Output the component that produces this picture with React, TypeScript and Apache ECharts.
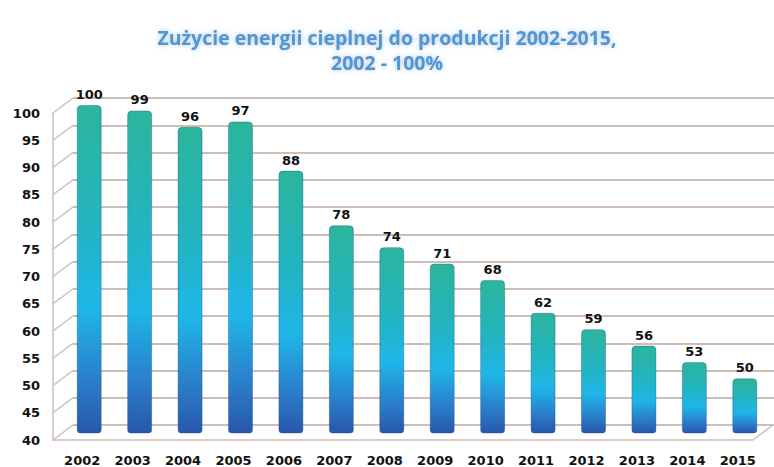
import React, { useEffect, useRef } from "react";
import * as echarts from "echarts";

const years = ["2002", "2003", "2004", "2005", "2006", "2007", "2008", "2009", "2010", "2011", "2012", "2013", "2014", "2015"];
const values = [100, 99, 96, 97, 88, 78, 74, 71, 68, 62, 59, 56, 53, 50];
const wallTicks = [40, 45, 50, 55, 60, 65, 70, 75, 80, 85, 90, 95, 100];
const titleLines = ["Zużycie energii cieplnej do produkcji 2002-2015,", "2002 - 100%"];

const GRID_COLOR = "#cdbfb6";
const LABEL_FONT = "DejaVu Sans";

export default function App() {
  const ref = useRef<HTMLDivElement>(null);
  useEffect(() => {
    if (!ref.current) return;
    const chart = echarts.init(ref.current, null, { renderer: "svg" });
    const wallData = wallTicks.map((v) => [0, v]);
    wallData.push([1, 40]);
    chart.setOption({
      animation: false,
      backgroundColor: "#ffffff",
      title: {
        text: titleLines.join("\n"),
        left: "center",
        top: 20,
        textStyle: {
          fontFamily: "Open Sans",
          fontSize: 19.5,
          fontWeight: "bold",
          color: "#5595cf",
          lineHeight: 25,
          textShadowColor: "rgba(100,160,215,0.6)",
          textShadowBlur: 5,
        },
      },
      grid: [
        { left: 64, right: 4, top: 105, bottom: 34 },
        { left: 73, right: 0, top: 98, bottom: 42 },
        { left: 53, right: 21, top: 113, bottom: 27 },
      ],
      xAxis: [
        {
          type: "category",
          gridIndex: 0,
          data: years,
          axisLine: { show: false },
          axisTick: { show: false },
          axisLabel: {
            margin: 21,
            fontFamily: LABEL_FONT,
            fontSize: 13,
            fontWeight: "bold",
            color: "#111",
            padding: [0, 14, 0, 0],
          },
        },
        { type: "value", gridIndex: 1, min: 0, max: 1, show: false },
        {
          type: "value",
          gridIndex: 2,
          min: 0,
          max: 1,
          axisLine: { show: true, onZero: false, lineStyle: { color: GRID_COLOR, width: 1.5 } },
          axisTick: { show: false },
          axisLabel: { show: false },
          splitLine: { show: false },
        },
      ],
      yAxis: [
        { type: "value", gridIndex: 0, min: 40, max: 100, show: false },
        {
          type: "value",
          gridIndex: 1,
          min: 40,
          max: 100,
          interval: 5,
          axisLine: { show: false },
          axisTick: { show: false },
          axisLabel: { show: false },
          splitLine: { show: true, lineStyle: { color: GRID_COLOR, width: 2 } },
        },
        {
          type: "value",
          gridIndex: 2,
          min: 40,
          max: 100,
          interval: 5,
          axisLine: { show: true, lineStyle: { color: GRID_COLOR, width: 1.5 } },
          axisTick: { show: false },
          splitLine: { show: false },
          axisLabel: {
            margin: 13,
            fontFamily: LABEL_FONT,
            fontSize: 13,
            fontWeight: "bold",
            color: "#111",
          },
        },
      ],
      series: [
        {
          type: "custom",
          xAxisIndex: 2,
          yAxisIndex: 2,
          z: 1,
          data: wallData,
          renderItem: (_params: any, api: any) => {
            const p = api.coord([api.value(0), api.value(1)]);
            return {
              type: "line",
              shape: { x1: p[0], y1: p[1], x2: p[0] + 20, y2: p[1] - 15 },
              style: { stroke: GRID_COLOR, lineWidth: 1.5 },
            };
          },
        },
        {
          type: "bar",
          xAxisIndex: 0,
          yAxisIndex: 0,
          z: 5,
          data: values,
          barWidth: 25,
          itemStyle: {
            borderRadius: [4, 4, 3, 3],
            borderColor: "rgba(20,70,130,0.35)",
            borderWidth: 1,
            color: new echarts.graphic.LinearGradient(0, 0, 0, 1, [
              { offset: 0, color: "#2bb59b" },
              { offset: 0.38, color: "#22b4c2" },
              { offset: 0.62, color: "#1fb6e8" },
              { offset: 0.85, color: "#2a7cc9" },
              { offset: 1, color: "#2857aa" },
            ]),
          },
          label: {
            show: true,
            position: "top",
            distance: 4,
            fontFamily: LABEL_FONT,
            fontSize: 13,
            fontWeight: "bold",
            color: "#111",
          },
        },
      ],
    });
    return () => chart.dispose();
  }, []);
  return <div ref={ref} style={{ position: "fixed", left: 0, top: 0, width: 774, height: 467 }} />;
}
